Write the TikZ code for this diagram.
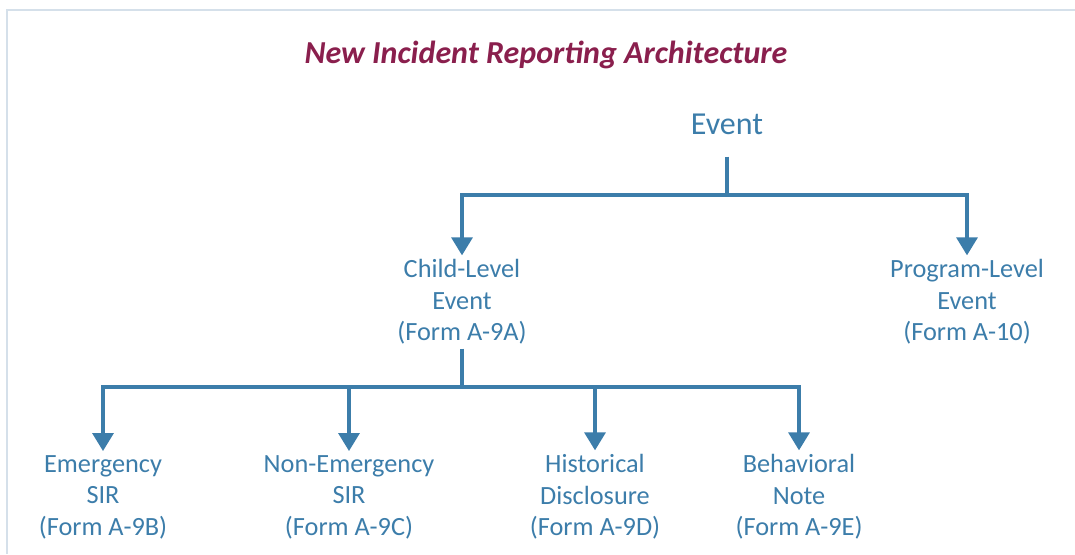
\documentclass[tikz,border=0pt]{standalone}
\usepackage{fontspec}
\setmainfont{Carlito}
\usetikzlibrary{arrows.meta,positioning}
\definecolor{linkblue}{HTML}{3C7DAA}
\definecolor{titlered}{HTML}{8A1F4D}
\definecolor{framegray}{HTML}{D5E0EA}

\begin{document}
\begin{tikzpicture}[x=1pt, y=-1pt,
  lbl/.style={align=center, text=linkblue, inner sep=4pt, font=\fontsize{26.3}{31.5}\selectfont},
  line/.style={line width=3.3pt, linkblue},
  arr/.style={line, -{Triangle[width=21pt, length=18pt]}}
]
  \useasboundingbox (0,0) rectangle (1075,554);
  \draw[framegray, line width=2.5pt] (7,554) -- (7,10) -- (1075,10);

  \node[font=\fontsize{32}{38}\selectfont\bfseries\itshape, text=titlered] (title) at (546,55) {New Incident Reporting Architecture};

  \node[lbl, font=\fontsize{32}{38}\selectfont] (event) at (727,124) {Event};
  \node[lbl] (child) at (462,302) {Child-Level\\Event\\(Form A-9A)};
  \node[lbl] (program) at (967,302) {Program-Level\\Event\\(Form A-10)};

  \node[lbl] (emerg) at (103,497) {Emergency\\SIR\\(Form A-9B)};
  \node[lbl] (nonemerg) at (349,497) {Non-Emergency\\SIR\\(Form A-9C)};
  \node[lbl] (hist) at (595,497) {Historical\\Disclosure\\(Form A-9D)};
  \node[lbl] (behav) at (799,497) {Behavioral\\Note\\(Form A-9E)};

  \coordinate (split1) at (727,195);
  \coordinate (split2) at (462,387);

  \draw[line, shorten <=18pt] (event) -- (split1);
  \draw[arr] (split1) -| (child);
  \draw[arr] (split1) -| (program);

  \draw[line] (child) -- (split2);
  \draw[arr] (split2) -| (emerg);
  \draw[arr] (split2) -| (nonemerg);
  \draw[arr] (split2) -| (hist);
  \draw[arr] (split2) -| (behav);
\end{tikzpicture}
\end{document}
